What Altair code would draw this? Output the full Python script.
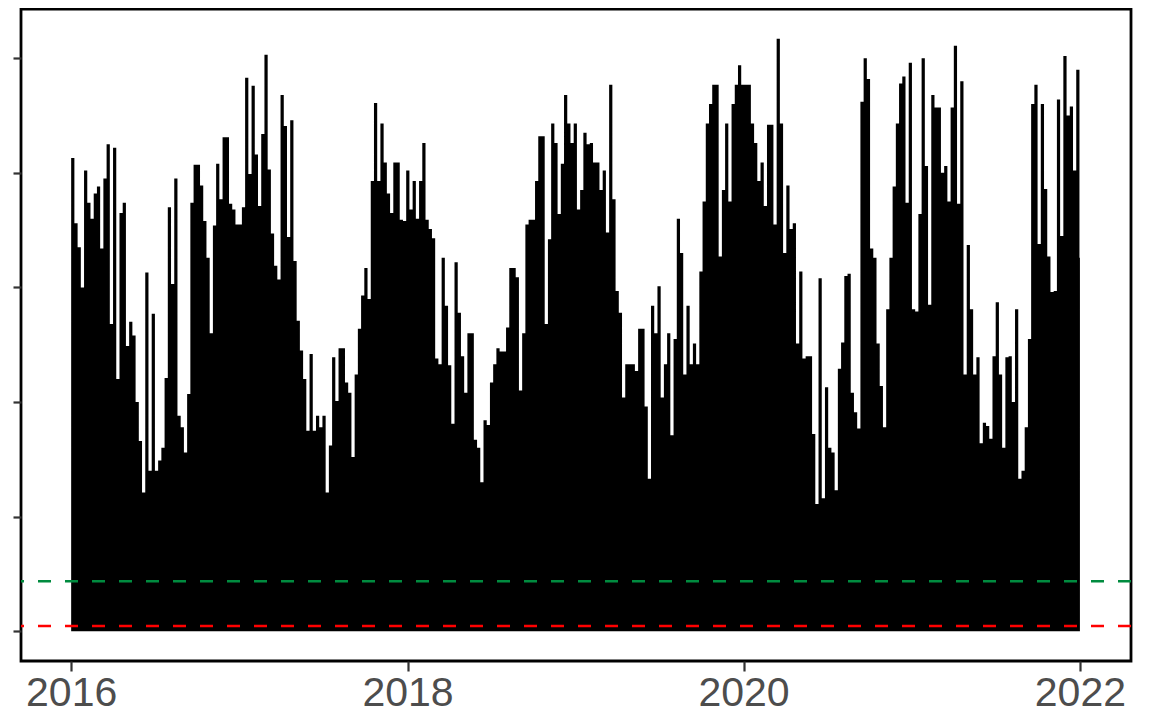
import altair as alt
import pandas as pd

# Weekly peak values, one list per year (approx.)
v2016 = [41.3, 35.6, 33.5, 30.0, 40.2, 37.4, 36.0, 38.2, 38.8, 33.4, 39.5, 42.5, 26.8,
         42.2, 22.0, 36.5, 37.4, 24.9, 27.0, 25.8, 20.0, 16.6, 12.1, 31.3, 14.0, 27.7,
         14.0, 14.9, 16.0, 22.1, 37.0, 30.3, 39.5, 18.8, 17.8, 15.6, 20.7, 37.4, 40.7,
         40.7, 38.9, 35.8, 32.6, 26.0, 35.4, 40.8, 37.7, 43.1, 43.1, 37.3, 36.8, 35.5]
v2017 = [35.5, 37.0, 48.3, 39.9, 47.6, 41.6, 37.1, 43.4, 50.3, 40.3, 34.7, 31.9, 30.7,
         46.8, 44.1, 34.4, 44.6, 32.3, 27.1, 24.5, 22.0, 17.5, 24.2, 17.5, 18.8, 17.8,
         18.8, 12.1, 16.2, 23.9, 20.1, 24.7, 24.7, 21.7, 20.8, 15.2, 22.4, 26.4, 29.3,
         31.7, 29.0, 39.3, 46.1, 39.3, 44.3, 40.9, 38.2, 36.5, 40.9, 40.9, 35.9, 35.8,
         40.2, 36.8]
v2018 = [39.3, 36.0, 39.3, 42.6, 35.9, 35.1, 34.3, 23.8, 23.3, 32.6, 28.4, 23.2, 18.1,
         32.2, 27.8, 24.0, 20.8, 26.0, 26.0, 16.7, 16.0, 13.0, 18.4, 18.0, 21.7, 23.3,
         24.7, 24.4, 24.4, 26.5, 31.7, 31.7, 30.9, 21.0, 26.0, 35.5, 35.9, 35.9, 39.3,
         43.2, 43.2, 26.8, 34.2, 44.3, 42.6, 36.4, 40.8, 46.8, 44.3, 42.6, 44.3, 36.8,
         38.5, 43.5, 42.5]
v2019 = [42.6, 40.9, 40.9, 38.5, 40.2, 34.8, 47.7, 37.7, 29.7, 27.8, 20.4, 23.3, 23.3,
         23.3, 22.7, 26.4, 26.4, 19.6, 13.3, 28.4, 26.0, 30.1, 20.4, 23.3, 26.0, 17.1,
         25.5, 36.0, 33.0, 22.4, 28.4, 23.3, 25.1, 23.3, 31.4, 37.5, 44.3, 46.0, 47.7,
         47.7, 32.7, 38.5, 44.3, 37.5, 46.0, 47.7, 49.4, 47.7, 47.7, 47.7, 44.3, 42.6,
         39.3, 40.9]
v2020 = [37.1, 44.2, 44.2, 35.5, 51.7, 44.3, 33.0, 38.9, 35.1, 35.6, 25.1, 31.4, 23.8,
         24.0, 24.0, 17.2, 11.1, 30.8, 11.6, 21.3, 16.0, 15.6, 12.3, 22.9, 25.2, 31.0,
         31.2, 20.8, 19.1, 17.7, 46.2, 50.0, 48.2, 33.4, 32.6, 25.1, 21.4, 17.8, 28.1,
         32.6, 38.8, 44.3, 47.8, 48.4, 37.4, 49.6, 28.1, 27.9, 36.4, 50.0, 40.6, 28.5,
         46.8, 45.7]
v2021 = [45.7, 40.0, 40.6, 37.5, 45.7, 51.1, 37.3, 48.0, 22.4, 33.7, 28.1, 22.4, 23.9,
         16.4, 18.2, 17.9, 16.8, 24.0, 28.7, 22.4, 16.0, 23.9, 24.0, 20.0, 28.1, 13.3,
         14.0, 17.8, 25.5, 46.0, 47.7, 33.8, 46.0, 38.6, 32.7, 29.6, 29.7, 46.4, 34.5,
         50.2, 45.0, 45.8, 40.2, 49.0, 32.6]

values = v2016 + v2017 + v2018 + v2019 + v2020 + v2021
start = pd.Timestamp("2016-01-01")
dates = [start + pd.Timedelta(weeks=i) for i in range(len(values))]
# close the last step at the end of the series
dates.append(pd.Timestamp("2022-01-01"))
values.append(values[-1])

df = pd.DataFrame({"date": [d.strftime("%Y-%m-%d") for d in dates], "value": values})

green_level = [4.36]
red_level = [0.46]
tick_years = ["2016-01-01", "2018-01-01", "2020-01-01", "2022-01-01"]
y_ticks = [0, 10, 20, 30, 40, 50]

xscale = alt.Scale(type="utc", domain=["2015-09-14", "2022-04-22"], nice=False)
yscale = alt.Scale(domain=[-2.6, 54.3], nice=False, zero=False)

xaxis = alt.Axis(
    values=tick_years, format="%Y", formatType="utc", title=None, grid=False,
    domain=False, tickColor="#333333", tickWidth=2.2, tickSize=10,
    labelFontSize=41, labelFont="Liberation Sans", labelColor="#4d4d4d",
    labelPadding=2, labelFlush=False,
)
yaxis = alt.Axis(
    values=y_ticks, labels=False, title=None, grid=False, domain=False,
    tickColor="#333333", tickWidth=2.2, tickSize=8,
)

area = alt.Chart(df).mark_area(
    interpolate="step-after", color="black", line=False
).encode(
    x=alt.X("date:T", scale=xscale, axis=xaxis),
    y=alt.Y("value:Q", scale=yscale, axis=yaxis),
    y2=alt.datum(0),
)

green = alt.Chart(pd.DataFrame({"y": green_level})).mark_rule(
    color="#008b3f", strokeWidth=2.6, strokeDash=[13, 14]
).encode(y=alt.Y("y:Q", scale=yscale))

red = alt.Chart(pd.DataFrame({"y": red_level})).mark_rule(
    color="#ff0000", strokeWidth=2.6, strokeDash=[13, 14]
).encode(y=alt.Y("y:Q", scale=yscale))

chart = alt.layer(area, green, red).properties(
    width=1110, height=652,
    background="white",
    autosize=alt.AutoSizeParams(type="none"),
    padding={"left": 13, "top": 1, "right": 10, "bottom": 54},
).configure_view(
    stroke="black", strokeWidth=2.8
)

chart.save("out.html", embed_options={"renderer": "svg", "actions": False})
